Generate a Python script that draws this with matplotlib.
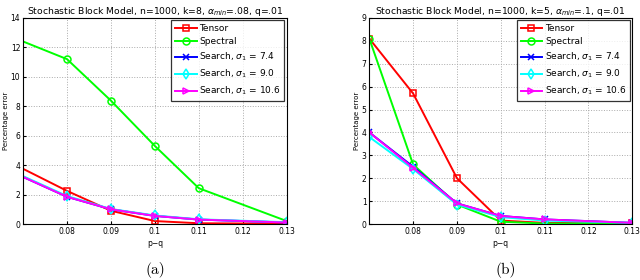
import matplotlib
matplotlib.use("Agg")
import matplotlib.pyplot as plt

x = [0.07, 0.08, 0.09, 0.10, 0.11, 0.13]
xticks = [0.08, 0.09, 0.10, 0.11, 0.12, 0.13]
xticklabels = ["0.08", "0.09", "0.1", "0.11", "0.12", "0.13"]

# panel (a)
a_tensor = [3.75, 2.25, 0.9, 0.2, 0.05, 0.02]
a_spectral = [12.4, 11.2, 8.38, 5.3, 2.43, 0.2]
a_s74 = [3.2, 1.85, 1.0, 0.55, 0.3, 0.1]
a_s90 = [3.25, 1.9, 1.02, 0.58, 0.32, 0.12]
a_s106 = [3.2, 1.85, 1.0, 0.55, 0.3, 0.1]

# panel (b)
b_tensor = [8.1, 5.7, 2.0, 0.15, 0.05, 0.03]
b_spectral = [8.1, 2.6, 0.85, 0.1, 0.02, 0.02]
b_s74 = [4.0, 2.5, 0.9, 0.35, 0.2, 0.05]
b_s90 = [3.8, 2.4, 0.85, 0.3, 0.15, 0.05]
b_s106 = [4.0, 2.45, 0.9, 0.35, 0.2, 0.05]

labels = ["Tensor", "Spectral", r"Search, $\sigma_1$ = 7.4",
          r"Search, $\sigma_1$ = 9.0", r"Search, $\sigma_1$ = 10.6"]
colors = ["#ff0000", "#00ff00", "#0000ff", "#00ffff", "#ff00ff"]
markers = ["s", "o", "x", "d", ">"]

fig = plt.figure(figsize=(6.4, 2.8), dpi=100)

def panel(rect, series, ylim, yticks, title, caption, cx, markevery):
    ax = fig.add_axes(rect)
    for ys, lab, c, m in zip(series, labels, colors, markers):
        ax.plot(x, ys, color=c, lw=1.4, marker=m, ms=5, mfc="none",
                mec=c, mew=1.1, label=lab, markevery=markevery)
    ax.set_xlim(0.07, 0.13)
    ax.set_ylim(*ylim)
    ax.set_xticks(xticks)
    ax.set_xticklabels(xticklabels)
    ax.set_yticks(yticks)
    ax.tick_params(labelsize=5.5, length=2, direction="in", pad=2)
    ax.grid(True, linestyle=":", color="#aaaaaa", lw=0.7)
    for s in ax.spines.values():
        s.set_linewidth(0.8)
    ax.set_xlabel("p\u2212q", fontsize=5.5, labelpad=2)
    ax.set_ylabel("Percentage error", fontsize=5, labelpad=1)
    ax.set_title(title, fontsize=6.7, pad=3)
    leg = ax.legend(loc="upper right", fontsize=6.5, frameon=True, fancybox=False,
                    borderpad=0.4, labelspacing=0.5, handlelength=2.4,
                    handletextpad=0.3, borderaxespad=0.25)
    leg.get_frame().set_edgecolor("black")
    leg.get_frame().set_linewidth(0.9)
    fig.text(cx, 0.02, caption, fontsize=11, family="cmr10", ha="center")
    return ax

panel([0.036, 0.2, 0.412, 0.736],
      [a_tensor, a_spectral, a_s74, a_s90, a_s106],
      (0, 14), range(0, 15, 2),
      r"Stochastic Block Model, n=1000, k=8, $\alpha_{min}$=.08, q=.01",
      "(a)", 0.242, slice(1, None))
panel([0.577, 0.2, 0.411, 0.736],
      [b_tensor, b_spectral, b_s74, b_s90, b_s106],
      (0, 9), range(0, 10),
      r"Stochastic Block Model, n=1000, k=5, $\alpha_{min}$=.1, q=.01",
      "(b)", 0.79, None)

fig.savefig("out.png", dpi=100)
